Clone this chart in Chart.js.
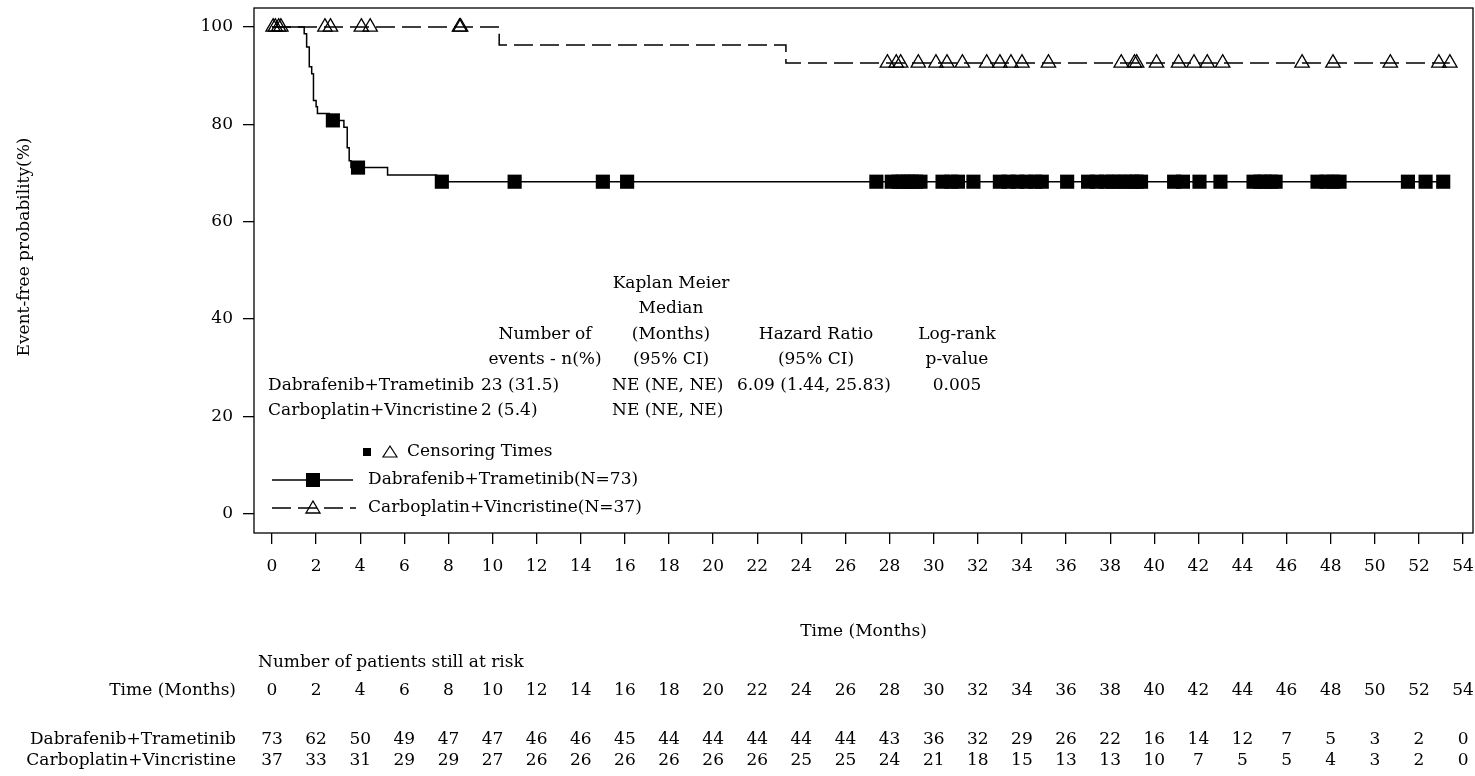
<!DOCTYPE html>
<html>
<head>
<meta charset="utf-8">
<style>
  html, body { margin: 0; padding: 0; background: #fff; }
  #wrap { width: 1475px; height: 776px; }
</style>
<script src="https://cdn.jsdelivr.net/npm/chart.js@4.4.1/dist/chart.umd.min.js"></script>
</head>
<body>
<div id="wrap"><canvas id="km" width="1475" height="776"></canvas></div>
<script>
// ---------- data ----------

const xTicks = [0, 2, 4, 6, 8, 10, 12, 14, 16, 18, 20, 22, 24, 26, 28, 30, 32, 34, 36, 38, 40, 42, 44, 46, 48, 50, 52, 54];
const yTicks = [0, 20, 40, 60, 80, 100];

// Kaplan-Meier steps (months, event-free %)
const dabTime = [0, 1.46, 1.57, 1.69, 1.80, 1.88, 2.00, 2.06, 2.60, 3.26, 3.41, 3.50, 3.58, 5.24, 7.46, 53.4];
const dabSurv = [100, 98.6, 95.9, 91.8, 90.4, 84.9, 83.6, 82.2, 80.8, 79.4, 75.2, 72.5, 71.1, 69.6, 68.2, 68.2];

const carbTime = [0, 10.3, 23.3, 53.4];
const carbSurv = [100, 96.3, 92.6, 92.6];

// censoring times (months)
const dabCensor = [2.76, 3.9, 7.7, 11.0, 15.0, 16.1, 27.4, 28.1, 28.4, 28.6, 28.8, 29.0, 29.2, 29.4,
    30.4, 30.8, 31.1, 31.8, 33.0, 33.4, 33.8, 34.2, 34.6, 34.9, 36.05, 37.0, 37.4, 37.8,
    38.1, 38.4, 38.7, 39.0, 39.2, 39.4, 40.9, 41.3, 42.05, 43.0, 44.5, 44.8, 45.0, 45.3, 45.5,
    47.4, 47.8, 48.1, 48.4, 51.5, 52.3, 53.1];
const carbCensor = [0.05, 0.15, 0.3, 0.4, 2.4, 2.65, 4.05, 4.45, 8.5, 8.55, 27.9, 28.3, 28.5, 29.3,
    30.1, 30.6, 31.3, 32.4, 33.0, 33.5, 34.0, 35.2, 38.5, 39.1, 39.2, 40.1, 41.1, 41.8, 42.4, 43.1,
    46.7, 48.1, 50.7, 52.9, 53.4];

// number at risk
const riskTimes = xTicks;
const dabRisk = [73, 62, 50, 49, 47, 47, 46, 46, 45, 44, 44, 44, 44, 44, 43, 36, 32, 29, 26, 22, 16, 14, 12, 7, 5, 3, 2, 0];
const carbRisk = [37, 33, 31, 29, 29, 27, 26, 26, 26, 26, 26, 26, 25, 25, 24, 21, 18, 15, 13, 13, 10, 7, 5, 5, 4, 3, 2, 0];

// summary table
const groups = ["Dabrafenib+Trametinib", "Carboplatin+Vincristine"];
const legendLabels = ["Dabrafenib+Trametinib(N=73)", "Carboplatin+Vincristine(N=37)"];
const statEvents = ["23 (31.5)", "2 (5.4)"];
const statMedian = ["NE (NE, NE)", "NE (NE, NE)"];
const statHazard = ["6.09 (1.44, 25.83)", ""];
const statPValue = ["0.005", ""];

// ---------- helpers ----------

const FONT = '17px "DejaVu Serif"';

function stepValue(times, surv, t) {
    let v = surv[0];
    for (let i = 0; i < times.length; i++) {
        if (times[i] <= t) v = surv[i];
    }
    return v;
}

function toPoints(times, values) {
    return times.map((t, i) => ({ x: t, y: values[i] }));
}

function censorPoints(times, curveTime, curveSurv) {
    return times.map(t => ({ x: t, y: stepValue(curveTime, curveSurv, t) }));
}

// ---------- frame, tick labels, texts, legend, risk table ----------
// (tick labels drawn here so Chart.js does not pad the plot area for them)

const annotations = {

    id: "annotations",

    afterDraw(chart) {

        const { ctx, chartArea: area, scales: { x, y } } = chart;

        ctx.save();

        ctx.strokeStyle = "#000";
        ctx.fillStyle = "#000";
        ctx.lineWidth = 1.3;
        ctx.strokeRect(area.left, area.top, area.right - area.left, area.bottom - area.top);

        ctx.font = FONT;
        ctx.textBaseline = "middle";

        // tick labels
        ctx.textAlign = "center";
        xTicks.forEach(t => ctx.fillText(String(t), x.getPixelForValue(t), 567));
        ctx.textAlign = "right";
        yTicks.forEach(v => ctx.fillText(String(v), 233, y.getPixelForValue(v)));

        // axis titles
        ctx.save();
        ctx.translate(25, 247);
        ctx.rotate(-Math.PI / 2);
        ctx.textAlign = "center";
        ctx.fillText("Event-free probability(%)", 0, 0);
        ctx.restore();

        ctx.textAlign = "center";
        ctx.fillText("Time (Months)", (area.left + area.right) / 2, 632);

        // summary table headers
        const header = (lines, cx, ys) => lines.forEach((s, i) => ctx.fillText(s, cx, ys[i]));
        header(["Kaplan Meier", "Median", "(Months)", "(95% CI)"], 671, [284, 309, 335, 360]);
        header(["Number of", "events - n(%)"], 545, [335, 360]);
        header(["Hazard Ratio", "(95% CI)"], 816, [335, 360]);
        header(["Log-rank", "p-value"], 957, [335, 360]);

        const rowY = [386, 411];
        ctx.textAlign = "left";
        groups.forEach((g, i) => {
            ctx.fillText(g, 268, rowY[i]);
            ctx.fillText(statEvents[i], 481, rowY[i]);
            ctx.fillText(statMedian[i], 612, rowY[i]);
            ctx.fillText(statHazard[i], 737, rowY[i]);
        });
        ctx.textAlign = "center";
        statPValue.forEach((p, i) => ctx.fillText(p, 957, rowY[i]));

        // legend
        ctx.textAlign = "left";
        ctx.fillRect(363, 448, 8, 8);
        ctx.lineWidth = 1.2;
        ctx.beginPath();
        ctx.moveTo(383, 457); ctx.lineTo(397, 457); ctx.lineTo(390, 446); ctx.closePath();
        ctx.stroke();
        ctx.fillText("Censoring Times", 407, 452);

        ctx.lineWidth = 1.5;
        ctx.beginPath();
        ctx.moveTo(272, 480); ctx.lineTo(353, 480);
        ctx.stroke();
        ctx.fillRect(306, 473, 14, 14);
        ctx.fillText(legendLabels[0], 368, 480);

        ctx.setLineDash([19, 7]);
        ctx.beginPath();
        ctx.moveTo(272, 508); ctx.lineTo(356, 508);
        ctx.stroke();
        ctx.setLineDash([]);
        ctx.lineWidth = 1.3;
        ctx.beginPath();
        ctx.moveTo(306, 513); ctx.lineTo(320, 513); ctx.lineTo(313, 501); ctx.closePath();
        ctx.stroke();
        ctx.fillText(legendLabels[1], 368, 508);

        // number at risk
        ctx.fillText("Number of patients still at risk", 258, 663);
        ctx.textAlign = "right";
        ctx.fillText("Time (Months)", 236, 691);
        ctx.fillText(groups[0], 236, 740);
        ctx.fillText(groups[1], 236, 761);
        ctx.textAlign = "center";
        riskTimes.forEach((t, i) => {
            const px = x.getPixelForValue(t);
            ctx.fillText(String(t), px, 691);
            ctx.fillText(String(dabRisk[i]), px, 740);
            ctx.fillText(String(carbRisk[i]), px, 761);
        });

        ctx.restore();

    }

};

// ---------- chart ----------

new Chart(document.getElementById("km"), {
    type: "scatter",
    data: {
        datasets: [
            {
                label: "Dabrafenib+Trametinib censored",
                data: censorPoints(dabCensor, dabTime, dabSurv),
                pointStyle: "rect",
                pointRadius: 10,
                pointBackgroundColor: "#000",
                pointBorderColor: "#000",
                pointBorderWidth: 0,
                showLine: false
            },
            {
                label: "Carboplatin+Vincristine censored",
                data: censorPoints(carbCensor, carbTime, carbSurv),
                pointStyle: "triangle",
                pointRadius: 8.3,
                pointBackgroundColor: "rgba(0,0,0,0)",
                pointBorderColor: "#000",
                pointBorderWidth: 1.3,
                showLine: false
            },
            {
                label: "Dabrafenib+Trametinib",
                data: toPoints(dabTime, dabSurv),
                showLine: true,
                stepped: true,
                borderColor: "#000",
                borderWidth: 1.5,
                pointRadius: 0
            },
            {
                label: "Carboplatin+Vincristine",
                data: toPoints(carbTime, carbSurv),
                showLine: true,
                stepped: true,
                borderColor: "#000",
                borderWidth: 1.5,
                borderDash: [19, 7],
                pointRadius: 0
            }
        ]
    },
    options: {
        responsive: false,
        animation: false,
        layout: { autoPadding: false, padding: { top: 8, right: 2, left: 0, bottom: 0 } },
        plugins: {
            legend: { display: false },
            tooltip: { enabled: false }
        },
        scales: {
            x: {
                type: "linear",
                min: -0.816,
                max: 54.45,
                afterBuildTicks: axis => { axis.ticks = xTicks.map(v => ({ value: v })); },
                afterFit: axis => { axis.height = 243; },
                grid: { drawOnChartArea: false, tickLength: 11, color: "#000", lineWidth: 1.3 },
                border: { display: false },
                ticks: { display: false }
            },
            y: {
                min: -4,
                max: 103.9,
                afterBuildTicks: axis => { axis.ticks = yTicks.map(v => ({ value: v })); },
                afterFit: axis => { axis.width = 254; },
                grid: { drawOnChartArea: false, tickLength: 11, color: "#000", lineWidth: 1.3 },
                border: { display: false },
                ticks: { display: false }
            }
        }
    },
    plugins: [annotations]
});
</script>
</body>
</html>
